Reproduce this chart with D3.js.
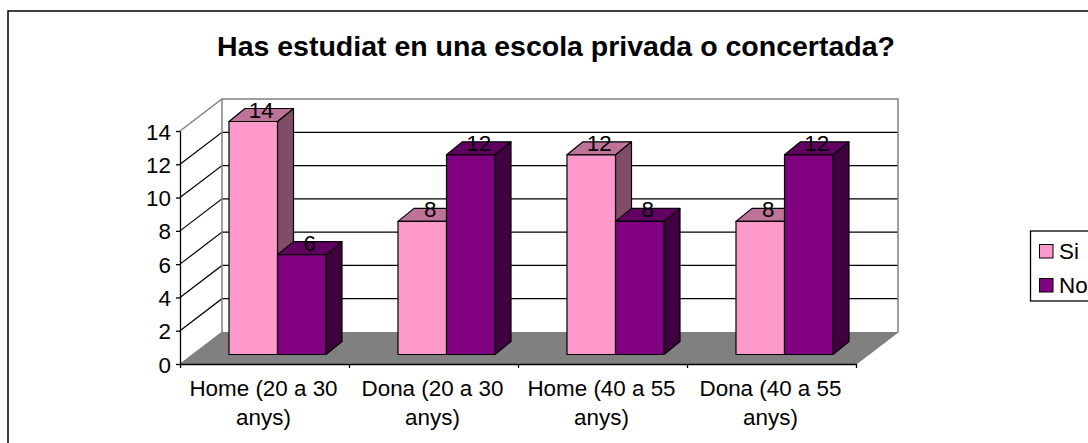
<!DOCTYPE html>
<html><head><meta charset="utf-8">
<script src="https://cdn.jsdelivr.net/npm/d3@7"></script>
<style>html,body{margin:0;padding:0;background:#fff;overflow:hidden}svg{display:block}text{font-family:"Liberation Sans",Arial,sans-serif;fill:#000}</style>
</head><body><svg id="c" width="1088" height="443"></svg>
<script>
const title = "Has estudiat en una escola privada o concertada?";
const categories = [["Home (20 a 30","anys)"],["Dona (20 a 30","anys)"],["Home (40 a 55","anys)"],["Dona (40 a 55","anys)"]];
const seriesNames = ["Si","No"];
const siValues = [14,8,12,8];
const noValues = [6,12,8,12];
const yTicks = [0,2,4,6,8,10,12,14];
const colors = {Si:{front:"#FF99CC",top:"#BF7399",side:"#804D66"},No:{front:"#800080",top:"#600060",side:"#400040"}};

const svg = d3.select("#c");
const fs = 22.4;
const x = d3.scaleBand().domain(d3.range(categories.length)).range([180,856]).paddingInner(0.426).paddingOuter(0.213);
const xs = d3.scaleBand().domain(seriesNames).range([0,x.bandwidth()]);
const y = d3.scaleLinear().domain([0,14]).range([364,131]);
const wall = {dx:42,dy:-32};
const inset = {dx:13,dy:-9.5};
const bar = {dx:16,dy:-13};
const pts = a => a.map(p=>p.join(",")).join(" ");

// chart frame
svg.append("rect").attr("x",8).attr("y",11).attr("width",1200).attr("height",600).attr("fill","#fff").attr("stroke","#000").attr("stroke-width",1.5);
svg.append("text").attr("x",556).attr("y",56).attr("text-anchor","middle").attr("font-size",28.5).attr("font-weight","bold").text(title);

// floor
const x0=x.range()[0], x1=x.range()[1], y0=y(0), yT=y(14);
svg.append("polygon").attr("points",pts([[x0,y0],[x0+wall.dx,y0+wall.dy],[x1+wall.dx,y0+wall.dy],[x1,y0]])).attr("fill","#808080");
// gridlines
const grid = svg.append("g").attr("fill","none").attr("stroke","#000").attr("stroke-width",1.2);
yTicks.filter(t=>t>0&&t<14).forEach(t=>{
  grid.append("polyline").attr("points",pts([[x0,y(t)],[x0+wall.dx,y(t)+wall.dy],[x1+wall.dx,y(t)+wall.dy]]));
});
// walls
svg.append("polyline").attr("fill","none").attr("stroke","#808080").attr("stroke-width",1.5)
  .attr("points",pts([[x0,yT],[x0+wall.dx,yT+wall.dy],[x1+wall.dx,yT+wall.dy],[x1+wall.dx,y0+wall.dy],[x1,y0]]));
svg.append("line").attr("stroke","#808080").attr("stroke-width",1.5).attr("x1",x0+wall.dx).attr("x2",x0+wall.dx).attr("y1",yT+wall.dy).attr("y2",y0+wall.dy);
svg.append("line").attr("stroke","#808080").attr("x1",x0).attr("y1",y0).attr("x2",x0+wall.dx).attr("y2",y0+wall.dy);

// bars
const rows = [];
categories.forEach((c,i)=>{
  rows.push({i,s:"Si",v:siValues[i]});
  rows.push({i,s:"No",v:noValues[i]});
});
const barG = svg.append("g").attr("stroke","#000").attr("stroke-width",1.2).attr("stroke-linejoin","round");
rows.forEach(d=>{
  const L = x(d.i)+xs(d.s)+inset.dx, R = L+xs.bandwidth(), B = y(0)+inset.dy, T = y(d.v)+inset.dy, c = colors[d.s];
  barG.append("polygon").attr("fill",c.side).attr("points",pts([[R,B],[R+bar.dx,B+bar.dy],[R+bar.dx,T+bar.dy],[R,T]]));
  barG.append("polygon").attr("fill",c.top).attr("points",pts([[L,T],[L+bar.dx,T+bar.dy],[R+bar.dx,T+bar.dy],[R,T]]));
  barG.append("rect").attr("fill",c.front).attr("x",L).attr("y",T).attr("width",R-L).attr("height",B-T);
});
// data labels
rows.forEach(d=>{
  const cx = x(d.i)+xs(d.s)+inset.dx+xs.bandwidth()/2+bar.dx/2;
  svg.append("text").attr("x",cx).attr("y",y(d.v)+inset.dy-4).attr("text-anchor","middle").attr("font-size",fs).text(d.v);
});

// y axis
const yAxis = svg.append("g").attr("transform",`translate(${x0},0)`)
  .call(d3.axisLeft(y).tickValues(yTicks).tickSize(4).tickSizeOuter(0).tickPadding(5));
yAxis.selectAll("text").attr("font-size",fs).attr("font-family",null).attr("dy","0.36em").style("font-family",'"Liberation Sans",Arial,sans-serif');
yAxis.selectAll("line,path").attr("stroke","#000").attr("stroke-width",1.3);

// x axis
const xEdge = d3.scaleLinear().domain([0,categories.length]).range(x.range());
const xAxis = svg.append("g").attr("transform",`translate(0,${y0})`)
  .call(d3.axisBottom(xEdge).tickValues(d3.range(categories.length+1)).tickSize(4).tickSizeOuter(0).tickFormat(""));
xAxis.selectAll("line,path").attr("stroke","#000").attr("stroke-width",1.3);
categories.forEach((c,i)=>{
  const t = svg.append("text").attr("text-anchor","middle").attr("font-size",fs);
  const cx = xEdge(i+0.5)-1;
  c.forEach((ln,j)=>t.append("tspan").attr("x",cx).attr("y",396+j*29).text(ln));
});

// legend
svg.append("rect").attr("x",1030.5).attr("y",231).attr("width",100).attr("height",70).attr("fill","#fff").attr("stroke","#000").attr("stroke-width",1.3);
seriesNames.forEach((n,i)=>{
  const ly = 244.5+i*34;
  svg.append("rect").attr("x",1039.5).attr("y",ly).attr("width",13.5).attr("height",13.5).attr("fill",colors[n].front).attr("stroke","#000");
  svg.append("text").attr("x",1059).attr("y",ly+14).attr("font-size",fs).text(n);
});
</script></body></html>
